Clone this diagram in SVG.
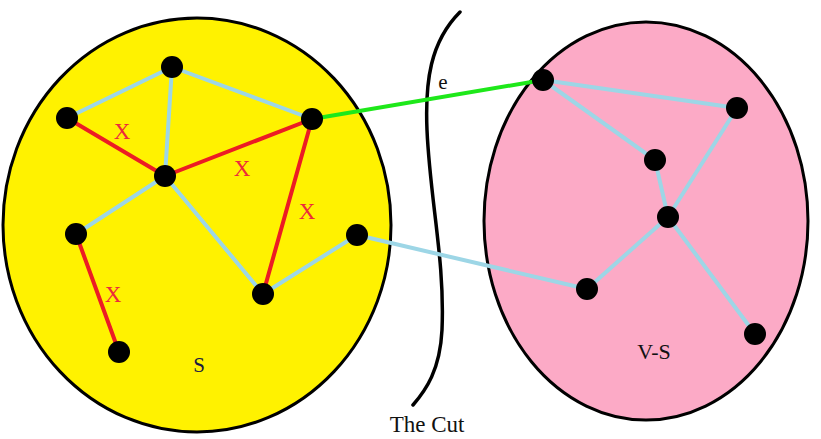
<svg xmlns="http://www.w3.org/2000/svg" width="821" height="439" viewBox="0 0 821 439">
<style>
.set{stroke:#000;stroke-width:3}
.e{stroke-width:4;stroke-linecap:round;fill:none}
.b{stroke:#9dd6e6}
.r{stroke:#ec1c24}
.g{stroke:#1ee81a}
.n{fill:#000}
.x{font-size:23px;fill:#ec2a3c}
text{font-family:"Liberation Serif","DejaVu Serif",serif}
</style>
<g id="setS"><ellipse class="set" cx="197" cy="225" rx="194" ry="207" fill="#fff200"/></g>
<g id="setVS"><ellipse class="set" cx="646" cy="221" rx="162" ry="199" fill="#fcaac6"/></g>
<g id="cut"><path d="M460,12 C430,42 425,82 427,130 C430,200 445,260 442,330 C440,370 426,390 413,405" fill="none" stroke="#000" stroke-width="3.5" stroke-linecap="round"/></g>
<g id="connectors">
<line class="e b" x1="172" y1="67" x2="67" y2="118"/>
<line class="e b" x1="172" y1="67" x2="312" y2="119"/>
<line class="e b" x1="172" y1="67" x2="165" y2="176"/>
<line class="e b" x1="165" y1="176" x2="76" y2="234"/>
<line class="e b" x1="165" y1="176" x2="263" y2="294"/>
<line class="e b" x1="263" y1="294" x2="357" y2="235"/>
<line class="e b" x1="357" y1="235" x2="587" y2="289"/>
<line class="e b" x1="543" y1="80" x2="737" y2="108"/>
<line class="e b" x1="543" y1="80" x2="655" y2="160"/>
<line class="e b" x1="655" y1="160" x2="668" y2="217"/>
<line class="e b" x1="737" y1="108" x2="668" y2="217"/>
<line class="e b" x1="668" y1="217" x2="587" y2="289"/>
<line class="e b" x1="668" y1="217" x2="755" y2="334"/>
<line class="e r" x1="67" y1="118" x2="165" y2="176"/>
<line class="e r" x1="165" y1="176" x2="312" y2="119"/>
<line class="e r" x1="312" y1="119" x2="263" y2="294"/>
<line class="e r" x1="76" y1="234" x2="119" y2="352"/>
<line class="e g" x1="312" y1="119" x2="543" y2="80"/>
</g>
<g id="n1"><circle class="n" cx="172" cy="67" r="11"/></g>
<g id="n2"><circle class="n" cx="67" cy="118" r="11"/></g>
<g id="n3"><circle class="n" cx="312" cy="119" r="11"/></g>
<g id="n4"><circle class="n" cx="165" cy="176" r="11"/></g>
<g id="n5"><circle class="n" cx="76" cy="234" r="11"/></g>
<g id="n6"><circle class="n" cx="357" cy="235" r="11"/></g>
<g id="n7"><circle class="n" cx="263" cy="294" r="11"/></g>
<g id="n8"><circle class="n" cx="119" cy="352" r="11"/></g>
<g id="m1"><circle class="n" cx="543" cy="80" r="11"/></g>
<g id="m2"><circle class="n" cx="737" cy="108" r="11"/></g>
<g id="m3"><circle class="n" cx="655" cy="160" r="11"/></g>
<g id="m4"><circle class="n" cx="668" cy="217" r="11"/></g>
<g id="m5"><circle class="n" cx="587" cy="289" r="11"/></g>
<g id="m6"><circle class="n" cx="755" cy="334" r="11"/></g>
<g id="labels">
<text class="x" x="122" y="139" text-anchor="middle">X</text>
<text class="x" x="242" y="176" text-anchor="middle">X</text>
<text class="x" x="307" y="219" text-anchor="middle">X</text>
<text class="x" x="113" y="302" text-anchor="middle">X</text>
<text x="443" y="89" font-size="21" text-anchor="middle" fill="#111">e</text>
<text x="199" y="372" font-size="21" text-anchor="middle" fill="#1a1a40">S</text>
<text x="654" y="359" font-size="22" text-anchor="middle" fill="#111">V-S</text>
<text x="427" y="432" font-size="23" text-anchor="middle" fill="#111">The Cut</text>
</g>
</svg>
